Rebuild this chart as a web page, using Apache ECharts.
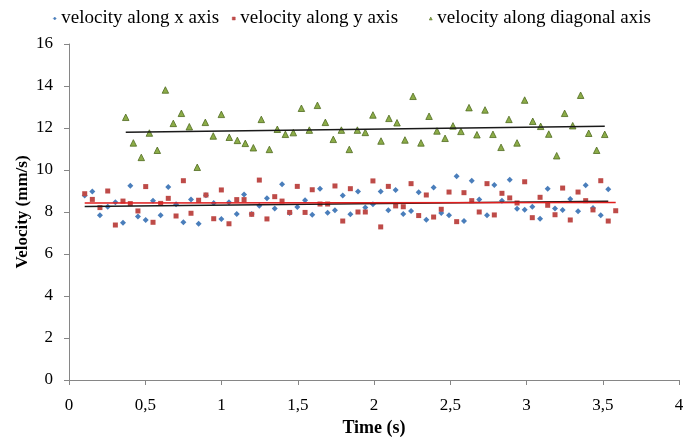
<!DOCTYPE html>
<html>
<head>
<meta charset="utf-8">
<script src="https://cdn.jsdelivr.net/npm/echarts@6/dist/echarts.min.js"></script>
<style>
html,body{margin:0;padding:0;background:#fff;}
#c{width:694px;height:441px;}
</style>
</head>
<body>
<div id="c"></div>
<script>
// ---- Data ----
var seriesNames = ['velocity along x axis', 'velocity along y axis', 'velocity along diagonal axis'];
var xTickLabels = ['0', '0,5', '1', '1,5', '2', '2,5', '3', '3,5', '4'];
var yTickLabels = ['0', '2', '4', '6', '8', '10', '12', '14', '16'];

// time (s) for x- and y-axis velocity samples
var timeXY = [0.103,0.153,0.203,0.254,0.304,0.354,0.402,0.452,0.503,0.551,0.601,0.651,0.702,0.750,0.800,0.850,0.898,0.949,
  0.999,1.049,1.100,1.148,1.198,1.248,1.298,1.349,1.397,1.447,1.497,1.548,1.595,1.646,1.696,1.744,1.795,1.845,1.895,1.943,
  1.993,2.044,2.094,2.142,2.192,2.243,2.293,2.343,2.391,2.441,2.492,2.542,2.590,2.641,2.690,2.741,2.789,2.839,2.890,2.938,
  2.988,3.038,3.089,3.139,3.187,3.237,3.287,3.338,3.388,3.436,3.487,3.536,3.585];

var velX = [8.79,8.98,7.84,8.25,8.46,7.49,9.25,7.79,7.62,8.54,7.84,9.19,8.37,7.51,8.59,7.44,8.80,8.43,
  7.67,8.46,7.90,8.83,7.90,8.30,8.65,8.17,9.32,7.95,8.24,8.56,7.87,9.11,7.97,8.08,8.78,7.89,8.98,8.21,
  8.37,8.98,8.08,9.05,7.90,8.05,8.94,7.63,9.17,7.95,7.84,9.70,7.57,9.49,8.59,7.84,9.29,8.54,9.54,8.16,
  8.11,8.25,7.68,9.11,8.17,8.10,8.62,8.03,9.27,8.19,7.84,9.08];

var velY = [8.87,8.60,8.21,9.00,7.38,8.52,8.40,8.05,9.21,7.51,8.41,8.65,7.81,9.49,7.94,8.56,8.81,7.68,
  9.05,7.44,8.59,8.59,7.89,9.52,7.67,8.73,8.52,7.98,9.22,7.98,9.06,8.38,8.38,9.24,7.57,9.11,8.00,8.00,
  9.48,7.29,9.22,8.29,8.25,9.35,7.83,8.81,7.76,8.13,8.95,7.54,8.92,8.54,8.00,9.35,7.86,8.89,8.67,8.43,
  9.44,7.73,8.70,8.32,7.87,9.14,7.62,8.95,8.54,8.10,9.49,7.57,8.06];

// time (s) and velocity for the diagonal samples
var timeD = [0.372,0.422,0.474,0.527,0.579,0.632,0.684,0.737,0.789,0.841,0.894,0.946,0.999,1.051,1.104,1.156,1.209,1.261,
  1.314,1.366,1.419,1.471,1.524,1.576,1.629,1.681,1.733,1.786,1.838,1.891,1.943,1.993,2.046,2.098,2.151,2.203,2.256,
  2.308,2.361,2.413,2.466,2.518,2.570,2.623,2.675,2.728,2.780,2.833,2.885,2.938,2.988,3.041,3.093,3.146,3.198,3.250,
  3.303,3.355,3.408,3.460,3.513];
var velD = [12.51,11.29,10.60,11.76,10.94,13.81,12.22,12.70,12.06,10.13,12.27,11.62,12.65,11.56,11.41,11.27,11.06,12.41,
  10.98,11.94,11.70,11.78,12.94,11.90,13.08,12.27,11.46,11.90,10.98,11.90,11.79,12.62,11.38,12.46,12.25,11.43,13.51,
  11.29,12.56,11.86,11.51,12.10,11.84,12.97,11.68,12.86,11.70,11.08,12.41,11.29,13.33,12.32,12.08,11.71,10.68,12.70,
  12.11,13.56,11.75,10.94,11.70];

// ---- helpers ----
function pairs(xs, ys) { var out = []; for (var i = 0; i < ys.length; i++) out.push([xs[i], ys[i]]); return out; }
function trend(xs, ys) {
  var n = ys.length, sx = 0, sy = 0, sxx = 0, sxy = 0;
  for (var i = 0; i < n; i++) { sx += xs[i]; sy += ys[i]; sxx += xs[i]*xs[i]; sxy += xs[i]*ys[i]; }
  var b = (n*sxy - sx*sy) / (n*sxx - sx*sx), a = (sy - b*sx) / n;
  var x0 = xs[0], x1 = xs[n-1];
  return [[x0, a + b*x0], [x1, a + b*x1]];
}

var FONT = 'Liberation Serif';
var cBlue = '#4a7ebb', cRed = '#be4b48', cGreen = '#8cac48';

var chart = echarts.init(document.getElementById('c'), null, {renderer: 'canvas'});

function legendAt(left, name, icon, color, border) {
  return {
    left: left, top: 9, data: [{name: name, icon: icon, itemStyle: {color: color, borderColor: border, borderWidth: 0.5}}],
    itemWidth: 3, itemHeight: 3, itemGap: 0, itemTextGap: 6,
    textStyle: {fontFamily: FONT, fontSize: 19, color: '#000'},
    selectedMode: false, padding: 0
  };
}

chart.setOption({
  animation: false,
  backgroundColor: '#fff',
  grid: {left: 69, right: 15, top: 44, bottom: 61, containLabel: false, outerBoundsMode: 'none'},
  legend: [
    legendAt(53, seriesNames[0], 'diamond', cBlue, cBlue),
    legendAt(232, seriesNames[1], 'rect', cRed, cRed),
    legendAt(429, seriesNames[2], 'triangle', cGreen, '#4f6b1f')
  ],
  xAxis: {
    type: 'value', min: 0, max: 4, interval: 0.5,
    name: 'Time (s)', nameLocation: 'middle', nameGap: 39, nameMoveOverlap: false,
    nameTextStyle: {fontFamily: FONT, fontSize: 18, fontWeight: 'bold', color: '#000'},
    axisLine: {show: true, lineStyle: {color: '#868686', width: 1}},
    axisTick: {show: true, length: 5, lineStyle: {color: '#868686'}},
    splitLine: {show: false},
    axisLabel: {fontFamily: FONT, fontSize: 17, color: '#000', margin: 17,
      formatter: function (v) { return xTickLabels[Math.round(v / 0.5)]; }}
  },
  yAxis: {
    type: 'value', min: 0, max: 16, interval: 2,
    name: 'Velocity (mm/s)', nameLocation: 'middle', nameGap: 38, nameRotate: 90, nameMoveOverlap: false,
    nameTextStyle: {fontFamily: FONT, fontSize: 17, fontWeight: 'bold', color: '#000'},
    axisLine: {show: true, lineStyle: {color: '#868686', width: 1}},
    axisTick: {show: true, length: 5, lineStyle: {color: '#868686'}},
    splitLine: {show: false},
    axisLabel: {fontFamily: FONT, fontSize: 17, color: '#000', margin: 16,
      formatter: function (v) { return yTickLabels[Math.round(v / 2)]; }}
  },
  series: [
    {name: seriesNames[0], type: 'scatter', symbol: 'diamond', symbolSize: 6, z: 3,
     itemStyle: {color: cBlue, opacity: 1}, data: pairs(timeXY, velX)},
    {name: seriesNames[1], type: 'scatter', symbol: 'rect', symbolSize: 5, z: 3,
     itemStyle: {color: cRed, opacity: 1}, data: pairs(timeXY, velY)},
    {name: seriesNames[2], type: 'scatter', symbol: 'triangle', symbolSize: 6.5, z: 3,
     itemStyle: {color: cGreen, borderColor: '#4f6b1f', borderWidth: 0.8, opacity: 1}, data: pairs(timeD, velD)},
    {type: 'line', data: trend(timeXY.slice(0, velX.length), velX), showSymbol: false, symbol: 'none', z: 4,
     lineStyle: {color: '#1a1a1a', width: 1.5}, silent: true},
    {type: 'line', data: trend(timeXY, velY), showSymbol: false, symbol: 'none', z: 4,
     lineStyle: {color: '#e01e1e', width: 1.5}, silent: true},
    {type: 'line', data: trend(timeD, velD), showSymbol: false, symbol: 'none', z: 4,
     lineStyle: {color: '#1a1a1a', width: 1.5}, silent: true}
  ]
});
</script>
</body>
</html>
